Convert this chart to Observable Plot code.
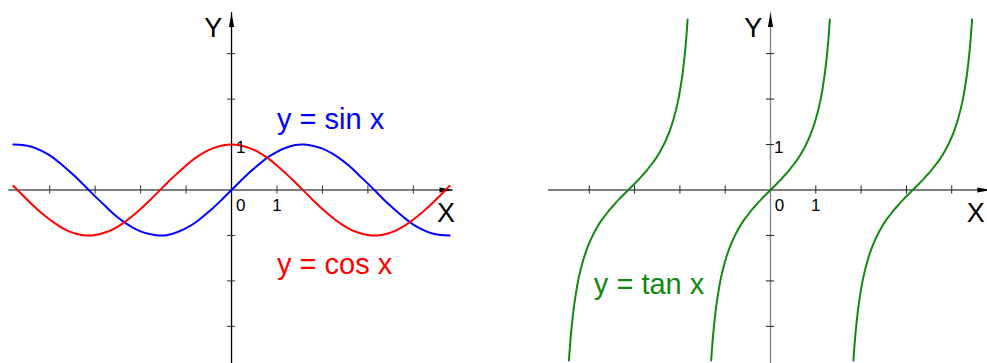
<!DOCTYPE html>
<html>
<head>
<meta charset="utf-8">
<script src="https://cdn.jsdelivr.net/npm/d3@7"></script>
<script src="https://cdn.jsdelivr.net/npm/@observablehq/plot@0.6"></script>
<style>
  html, body { margin: 0; padding: 0; background: #fff; overflow: hidden; }
  #charts { display: flex; flex-wrap: nowrap; width: 987px; height: 363px; }
  #charts svg { flex: none; overflow: hidden; }
</style>
</head>
<body>
<div id="charts"></div>
<script>
// Sample points of y = sin x and y = cos x on [-4.8, 4.8]
const xs = [-4.8, -4.6, -4.4, -4.2, -4.0, -3.8, -3.6, -3.4, -3.2, -3.0, -2.8, -2.6, -2.4,
            -2.2, -2.0, -1.8, -1.6, -1.4, -1.2, -1.0, -0.8, -0.6, -0.4, -0.2, 0,
            0.2, 0.4, 0.6, 0.8, 1.0, 1.2, 1.4, 1.6, 1.8, 2.0, 2.2, 2.4, 2.6, 2.8,
            3.0, 3.2, 3.4, 3.6, 3.8, 4.0, 4.2, 4.4, 4.6, 4.8];
const sinValues = [1.00, 0.99, 0.95, 0.87, 0.76, 0.61, 0.44, 0.26, 0.06, -0.14, -0.33, -0.52, -0.68,
                   -0.81, -0.91, -0.97, -1.00, -0.99, -0.93, -0.84, -0.72, -0.56, -0.39, -0.20, 0,
                   0.20, 0.39, 0.56, 0.72, 0.84, 0.93, 0.99, 1.00, 0.97, 0.91, 0.81, 0.68, 0.52, 0.33,
                   0.14, -0.06, -0.26, -0.44, -0.61, -0.76, -0.87, -0.95, -0.99, -1.00];
const cosValues = [0.09, -0.11, -0.31, -0.49, -0.65, -0.79, -0.90, -0.97, -1.00, -0.99, -0.94, -0.86, -0.74,
                   -0.59, -0.42, -0.23, -0.03, 0.17, 0.36, 0.54, 0.70, 0.83, 0.92, 0.98, 1.00,
                   0.98, 0.92, 0.83, 0.70, 0.54, 0.36, 0.17, -0.03, -0.23, -0.42, -0.59, -0.74, -0.86, -0.94,
                   -0.99, -1.00, -0.97, -0.90, -0.79, -0.65, -0.49, -0.31, -0.11, 0.09];

// One branch of y = tan x around its centre, repeated at each centre
const tanOffsets = [-1.31, -1.28, -1.25, -1.2, -1.15, -1.1, -1.0, -0.9, -0.8, -0.7, -0.6, -0.5, -0.4,
                    -0.3, -0.2, -0.1, 0, 0.1, 0.2, 0.3, 0.4, 0.5, 0.6, 0.7, 0.8, 0.9, 1.0, 1.1,
                    1.15, 1.2, 1.25, 1.28, 1.31];
const tanValues = [-3.75, -3.34, -3.01, -2.57, -2.24, -1.96, -1.56, -1.26, -1.03, -0.84, -0.68, -0.55, -0.42,
                   -0.31, -0.20, -0.10, 0, 0.10, 0.20, 0.31, 0.42, 0.55, 0.68, 0.84, 1.03, 1.26, 1.56, 1.96,
                   2.24, 2.57, 3.01, 3.34, 3.75];
const tanCentres = [-3.14, 0, 3.14];

// Axis ticks and labels
const xTicks = [-4, -3, -2, -1, 1, 2, 3, 4];
const yTicks = [-3, -2, -1, 1, 2, 3];
const tickLabelsX = [{x: 0.2, label: "0"}, {x: 1, label: "1"}];

const font = "Liberation Sans, Arial, Helvetica, sans-serif";
const tickHalf = 0.09;

const sinData = xs.map((x, i) => ({x, y: sinValues[i]}));
const cosData = xs.map((x, i) => ({x, y: cosValues[i]}));
const tanData = tanCentres.flatMap((c, b) =>
  tanOffsets.map((o, i) => ({branch: b, x: c + o, y: tanValues[i]})));

// Narrow filled arrowhead pointing up, centred on the dot position
const arrowHead = {
  draw(context) {
    context.moveTo(0, -7);
    context.lineTo(2.6, 7);
    context.lineTo(-2.6, 7);
    context.closePath();
  }
};

function axes({xAxisColor, yAxisColor, tickColor, xArrow}) {
  return [
    Plot.ruleY([0], {x1: -4.9, x2: xArrow, stroke: xAxisColor, strokeWidth: 2}),
    Plot.ruleX([0], {y1: -4, y2: 3.9, stroke: yAxisColor, strokeWidth: 1.3}),
    Plot.ruleX(xTicks, {x: d => d, y1: -tickHalf, y2: tickHalf, stroke: tickColor, strokeWidth: 1}),
    Plot.ruleY(yTicks, {y: d => d, x1: -tickHalf, x2: tickHalf, stroke: tickColor, strokeWidth: 1}),
    Plot.dot([0], {x: 0, y: 3.74, symbol: arrowHead, r: 5, fill: "#000", stroke: null}),
    Plot.dot([0], {x: xArrow - 0.15, y: 0, symbol: arrowHead, r: 5, rotate: 90, fill: "#000", stroke: null})
  ];
}

function labels({yLabelX, yOneX, xLabelX}) {
  return [
    Plot.text(tickLabelsX, {x: "x", y: -0.47, text: "label", fontSize: 17, fontFamily: font,
      fill: "#000", lineAnchor: "bottom", textAnchor: "middle"}),
    Plot.text(["1"], {x: yOneX, y: 0.81, text: d => d, fontSize: 17, fontFamily: font,
      fill: "#000", lineAnchor: "bottom", textAnchor: "middle"}),
    Plot.text(["Y"], {x: yLabelX, y: 3.36, text: d => d, fontSize: 27, fontFamily: font,
      fill: "#000", lineAnchor: "bottom", textAnchor: "middle"}),
    Plot.text(["X"], {x: xLabelX, y: -0.7, text: d => d, fontSize: 27, fontFamily: font,
      fill: "#000", lineAnchor: "bottom", textAnchor: "middle"})
  ];
}

const yDomain = [-3.817, 4.169];

const left = Plot.plot({
  width: 493,
  height: 363,
  margin: 0,
  style: {fontFamily: font, background: "#fff"},
  x: {domain: [-5.083, 5.764], axis: null},
  y: {domain: yDomain, axis: null},
  marks: [
    ...axes({xAxisColor: "#7f7f7f", yAxisColor: "#000", tickColor: "#333", xArrow: 4.88}),
    Plot.line(sinData, {x: "x", y: "y", stroke: "#0000ff", strokeWidth: 2, curve: "catmull-rom"}),
    Plot.line(cosData, {x: "x", y: "y", stroke: "#ff0000", strokeWidth: 2, curve: "catmull-rom"}),
    Plot.text(["y = sin x"], {x: 1.0, y: 1.347, text: d => d, fontSize: 29, fontFamily: font,
      fill: "#0000ff", lineAnchor: "bottom", textAnchor: "start"}),
    Plot.text(["y = cos x"], {x: 1.0, y: -1.84, text: d => d, fontSize: 29, fontFamily: font,
      fill: "#ff0000", lineAnchor: "bottom", textAnchor: "start"}),
    ...labels({yLabelX: -0.4, yOneX: 0.2, xLabelX: 4.72})
  ]
});

const right = Plot.plot({
  width: 494,
  height: 363,
  margin: 0,
  style: {fontFamily: font, background: "#fff"},
  x: {domain: [-6.115, 4.79], axis: null},
  y: {domain: yDomain, axis: null},
  marks: [
    ...axes({xAxisColor: "#7f7f7f", yAxisColor: "#7f7f7f", tickColor: "#222", xArrow: 4.87}),
    Plot.line(tanData, {x: "x", y: "y", z: "branch", stroke: "#118811", strokeWidth: 2, curve: "catmull-rom"}),
    Plot.text(["y = tan x"], {x: -3.9, y: -2.28, text: d => d, fontSize: 29, fontFamily: font,
      fill: "#118811", lineAnchor: "bottom", textAnchor: "start"}),
    ...labels({yLabelX: -0.38, yOneX: 0.18, xLabelX: 4.53})
  ]
});

document.getElementById("charts").append(left, right);
</script>
</body>
</html>
